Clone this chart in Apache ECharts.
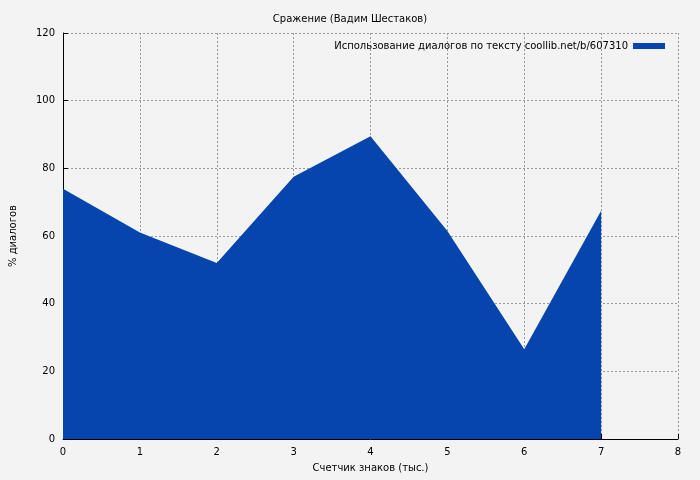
<!DOCTYPE html>
<html lang="ru">
<head>
  <meta charset="UTF-8" />
  <script src="https://cdn.jsdelivr.net/npm/echarts@6/dist/echarts.min.js"></script>
</head>
<body style="margin:0;overflow:hidden;background:#f3f3f3;">
  <div id="panel" style="width:700px;height:480px;"></div>
  <script>
    var xValues = [0, 1, 2, 3, 4, 5, 6, 7];
    var dialogPercent = [74, 61, 52, 77.5, 89.5, 61.5, 26.5, 67.5];
    var seriesName = 'Использование диалогов по тексту coollib.net/b/607310';

    var myChart = echarts.init(document.getElementById('panel'));
    var font = 'DejaVu Sans';
    var option = {
      backgroundColor: '#f3f3f3',
      animation: false,
      textStyle: { fontFamily: font },
      title: {
        text: 'Сражение (Вадим Шестаков)',
        left: 'center', top: 9,
        textStyle: { fontSize: 10, fontWeight: 'normal', color: '#000', fontFamily: font }
      },
      legend: {
        right: 30, top: 36,
        itemWidth: 32, itemHeight: 6,
        icon: 'rect',
        align: 'right',
        textStyle: { fontSize: 10, color: '#000', fontFamily: font },
        data: [seriesName]
      },
      grid: { left: 60, right: 22, top: 33, bottom: 41 },
      xAxis: {
        type: 'value', min: 0, max: 8, interval: 1,
        name: 'Счетчик знаков (тыс.)', nameLocation: 'middle', nameGap: 24,
        nameTextStyle: { fontSize: 10, color: '#000' },
        axisLine: { lineStyle: { color: '#000' } },
        axisTick: { inside: true, lineStyle: { color: '#000' } },
        axisLabel: { fontSize: 10, color: '#000' },
        splitLine: { show: true, lineStyle: { color: '#999', type: [2, 2] } }
      },
      yAxis: {
        type: 'value', min: 0, max: 120, interval: 20,
        name: '% диалогов', nameLocation: 'middle', nameGap: 45,
        nameTextStyle: { fontSize: 10, color: '#000' },
        axisLine: { show: true, lineStyle: { color: '#000' } },
        axisTick: { show: true, inside: true, lineStyle: { color: '#000' } },
        axisLabel: { fontSize: 10, color: '#000' },
        splitLine: { show: true, lineStyle: { color: '#999', type: [2, 2] } }
      },
      series: [{
        name: seriesName,
        type: 'line',
        data: xValues.map(function (x, i) { return [x, dialogPercent[i]]; }),
        symbol: 'none',
        lineStyle: { width: 0, color: '#0645ad' },
        itemStyle: { color: '#0645ad' },
        areaStyle: { color: '#0645ad', opacity: 1 }
      }]
    };
    myChart.setOption(option);
  </script>
</body>
</html>
